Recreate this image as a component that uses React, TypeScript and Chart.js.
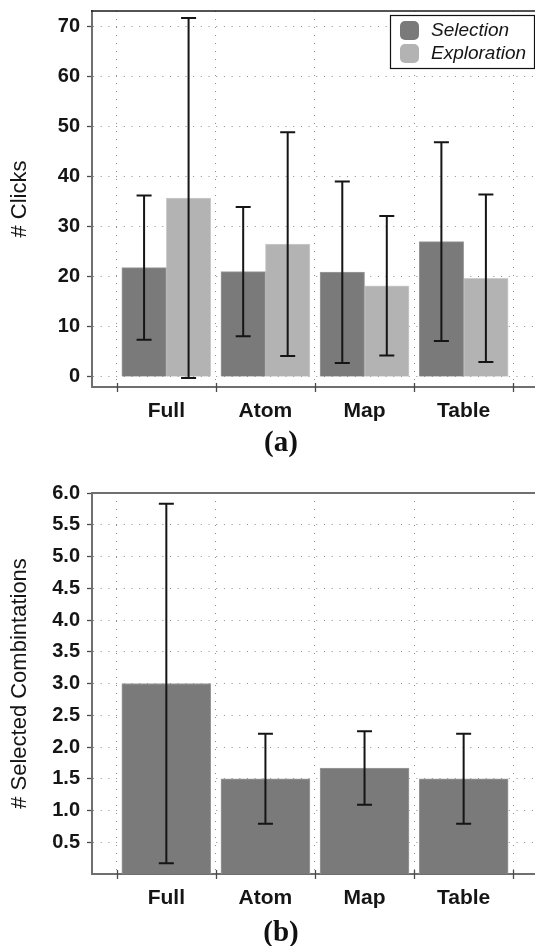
import React, { useEffect, useRef } from "react";
import { Chart, registerables } from "chart.js";

Chart.register(...registerables);

// ---- data ----
const categories = ["Full", "Atom", "Map", "Table"];
const seriesNames = ["Selection", "Exploration"];

// (a) number of clicks: mean and standard deviation per condition
const clicksSelection = [21.8, 21.0, 20.9, 27.0];
const clicksSelectionSd = [14.4, 12.9, 18.1, 19.8];
const clicksExploration = [35.7, 26.5, 18.2, 19.7];
const clicksExplorationSd = [35.9, 22.3, 13.9, 16.7];
const clicksTicks = [0, 10, 20, 30, 40, 50, 60, 70];

// (b) number of selected combinations: mean and standard deviation
const combinations = [3.0, 1.5, 1.67, 1.5];
const combinationsSd = [2.83, 0.71, 0.58, 0.71];
const combinationTicks = [0.5, 1.0, 1.5, 2.0, 2.5, 3.0, 3.5, 4.0, 4.5, 5.0, 5.5, 6.0];

// ---- styling ----
const SANS = '"Liberation Sans", Arial, Helvetica, sans-serif';
const SERIF = '"Liberation Serif", "Times New Roman", serif';
const DARK_BAR = "#7a7a7a";
const LIGHT_BAR = "#b3b3b3";
const GRID = "#8e8e8e";
const AXIS = "#6f6f6f";
const INK = "#151515";

// category boundaries where the x grid lines and ticks sit
const boundaries = [-0.5, 0.5, 1.5, 2.5, 3.5];
const xTickValues = [-0.5, 0, 0.5, 1, 1.5, 2, 2.5, 3, 3.5];

type Series = {
  label: string;
  values: number[];
  errors: number[];
  color: string;
  border: string;
};

type PanelSpec = {
  width: number;
  height: number;
  top: number;
  bottom: number;
  yMin: number;
  yMax: number;
  yTicks: number[];
  decimals: number;
  hideZero: boolean;
  series: Series[];
  barThickness: number;
  yTitle: string;
  caption: string;
  captionY: number;
  frameColor: string;
  frameWidth: number;
  legend: boolean;
};

// whiskers for mean ± sd on each bar
const errorBarPlugin = {
  id: "errorBars",
  afterDatasetsDraw(chart: any) {
    const ctx = chart.ctx;
    const y = chart.scales.y;
    ctx.save();
    ctx.strokeStyle = INK;
    ctx.lineWidth = 2;
    chart.data.datasets.forEach((ds: any, d: number) => {
      const meta = chart.getDatasetMeta(d);
      meta.data.forEach((el: any, i: number) => {
        const mean = ds.data[i].y;
        const sd = ds.errors[i];
        const yt = y.getPixelForValue(mean + sd);
        const yb = y.getPixelForValue(mean - sd);
        const cap = 7.5;
        ctx.beginPath();
        ctx.moveTo(el.x, yt);
        ctx.lineTo(el.x, yb);
        ctx.moveTo(el.x - cap, yt);
        ctx.lineTo(el.x + cap, yt);
        ctx.moveTo(el.x - cap, yb);
        ctx.lineTo(el.x + cap, yb);
        ctx.stroke();
      });
    });
    ctx.restore();
  },
};

// frame line, boundary ticks, legend box, axis title and panel caption
const decorPlugin = {
  id: "decor",
  afterDraw(chart: any, _args: any, opts: any) {
    const ctx = chart.ctx;
    const area = chart.chartArea;
    const x = chart.scales.x;
    ctx.save();

    // top frame line
    ctx.strokeStyle = opts.frameColor;
    ctx.lineWidth = opts.frameWidth;
    ctx.beginPath();
    ctx.moveTo(area.left - 1, area.top);
    ctx.lineTo(area.right, area.top);
    ctx.stroke();

    // tick marks at category boundaries, crossing the x axis line
    ctx.strokeStyle = "#4a4a4a";
    ctx.lineWidth = 1.3;
    boundaries.forEach((v) => {
      const px = Math.round(x.getPixelForValue(v)) + 0.5;
      ctx.beginPath();
      ctx.moveTo(px, area.bottom - 4);
      ctx.lineTo(px, area.bottom + 5);
      ctx.stroke();
    });

    // legend box
    if (opts.legend) {
      const w = 144;
      const h = 53;
      const left = area.right - w - 1;
      const top = area.top + 4;
      ctx.fillStyle = "#ffffff";
      ctx.fillRect(left, top, w, h);
      ctx.strokeStyle = "#111111";
      ctx.lineWidth = 1.2;
      ctx.strokeRect(left + 0.5, top + 0.5, w, h);
      chart.data.datasets.forEach((ds: any, i: number) => {
        const sy = top + 6 + i * 23;
        ctx.fillStyle = ds.backgroundColor;
        ctx.beginPath();
        (ctx as any).roundRect(left + 10, sy, 19, 19, 5);
        ctx.fill();
        ctx.fillStyle = INK;
        ctx.font = `italic 19px ${SANS}`;
        ctx.textAlign = "left";
        ctx.textBaseline = "middle";
        ctx.fillText(ds.label, left + 41, sy + 10);
      });
    }

    // y axis title, centred on the plot height
    ctx.fillStyle = INK;
    ctx.font = `22px ${SANS}`;
    ctx.textAlign = "center";
    ctx.textBaseline = "middle";
    ctx.save();
    ctx.translate(20, (area.top + area.bottom) / 2);
    ctx.rotate(-Math.PI / 2);
    ctx.fillText(opts.yTitle, 0, 0);
    ctx.restore();

    // caption under the panel
    ctx.font = `bold 29px ${SERIF}`;
    ctx.fillStyle = "#111111";
    ctx.fillText(opts.caption, 281, opts.captionY);

    ctx.restore();
  },
};

function Panel({ spec }: { spec: PanelSpec }) {
  const ref = useRef<HTMLCanvasElement>(null);

  useEffect(() => {
    if (!ref.current) return;
    const s = spec;
    const chart = new Chart(ref.current, {
      type: "bar",
      data: {
        datasets: s.series.map((sr) => ({
          label: sr.label,
          data: sr.values.map((v, i) => ({ x: i, y: v })),
          errors: sr.errors,
          backgroundColor: sr.color,
          borderColor: sr.border,
          borderWidth: 1,
          barThickness: s.barThickness,
        })) as any,
      },
      options: {
        responsive: false,
        maintainAspectRatio: false,
        devicePixelRatio: 1,
        animation: false,
        layout: { padding: { top: s.top, left: 0, right: 0, bottom: 0 } },
        plugins: {
          legend: { display: false },
          tooltip: { enabled: false },
          decor: {
            frameColor: s.frameColor,
            frameWidth: s.frameWidth,
            legend: s.legend,
            yTitle: s.yTitle,
            caption: s.caption,
            captionY: s.captionY,
          },
        } as any,
        scales: {
          x: {
            type: "linear",
            min: -0.75,
            max: 3.72,
            offset: false,
            afterBuildTicks: (sc: any) => {
              sc.ticks = xTickValues.map((v) => ({ value: v }));
            },
            afterFit: (sc: any) => {
              sc.height = s.height - s.bottom;
              sc.paddingLeft = 0;
              sc.paddingRight = 0;
            },
            ticks: {
              autoSkip: false,
              maxRotation: 0,
              minRotation: 0,
              padding: 7,
              color: INK,
              font: { family: SANS, size: 21, weight: "bold" },
              callback: (v: any) => (Number.isInteger(v) ? categories[v] : ""),
            },
            grid: {
              offset: false,
              color: (c: any) =>
                c.tick && !Number.isInteger(c.tick.value) ? GRID : "rgba(0,0,0,0)",
              lineWidth: 1,
              drawTicks: true,
              tickLength: 5,
              tickColor: "rgba(0,0,0,0)",
            },
            border: { display: true, color: AXIS, width: 2, dash: [1, 7] },
          },
          y: {
            type: "linear",
            min: s.yMin,
            max: s.yMax,
            afterBuildTicks: (sc: any) => {
              sc.ticks = s.yTicks.map((v) => ({ value: v }));
            },
            afterFit: (sc: any) => {
              sc.width = 92;
              sc.paddingTop = 0;
              sc.paddingBottom = 0;
            },
            ticks: {
              padding: 7,
              color: INK,
              font: { family: SANS, size: 20, weight: "bold" },
              callback: (v: any) =>
                s.hideZero && v === 0 ? "" : Number(v).toFixed(s.decimals),
            },
            grid: {
              color: GRID,
              lineWidth: 1,
              drawTicks: true,
              tickLength: 5,
              tickColor: "#4a4a4a",
              tickWidth: 1.3,
            },
            border: { display: true, color: AXIS, width: 2, dash: [1, 6.7] },
          },
        },
      },
      plugins: [errorBarPlugin, decorPlugin],
    } as any);
    return () => chart.destroy();
  }, [spec]);

  return (
    <canvas
      ref={ref}
      width={spec.width}
      height={spec.height}
      style={{ display: "block", width: spec.width, height: spec.height }}
    />
  );
}

const clicksPanel: PanelSpec = {
  width: 535,
  height: 470,
  top: 11,
  bottom: 387,
  yMin: -2,
  yMax: 73,
  yTicks: clicksTicks,
  decimals: 0,
  hideZero: false,
  series: [
    {
      label: seriesNames[0],
      values: clicksSelection,
      errors: clicksSelectionSd,
      color: DARK_BAR,
      border: "#9c9c9c",
    },
    {
      label: seriesNames[1],
      values: clicksExploration,
      errors: clicksExplorationSd,
      color: LIGHT_BAR,
      border: "#cdcdcd",
    },
  ],
  barThickness: 44.5,
  yTitle: "# Clicks",
  caption: "(a)",
  captionY: 444,
  frameColor: "#1a1a1a",
  frameWidth: 1.3,
  legend: true,
};

const combinationsPanel: PanelSpec = {
  width: 535,
  height: 476,
  top: 23,
  bottom: 404,
  yMin: 0,
  yMax: 6,
  yTicks: combinationTicks,
  decimals: 1,
  hideZero: true,
  series: [
    {
      label: seriesNames[0],
      values: combinations,
      errors: combinationsSd,
      color: DARK_BAR,
      border: "#9c9c9c",
    },
  ],
  barThickness: 89,
  yTitle: "# Selected Combintations",
  caption: "(b)",
  captionY: 464,
  frameColor: AXIS,
  frameWidth: 2,
  legend: false,
};

export default function App() {
  return (
    <div
      style={{
        position: "absolute",
        left: 0,
        top: 0,
        width: 535,
        height: 946,
        background: "#ffffff",
        overflow: "hidden",
      }}
    >
      <Panel spec={clicksPanel} />
      <Panel spec={combinationsPanel} />
    </div>
  );
}
